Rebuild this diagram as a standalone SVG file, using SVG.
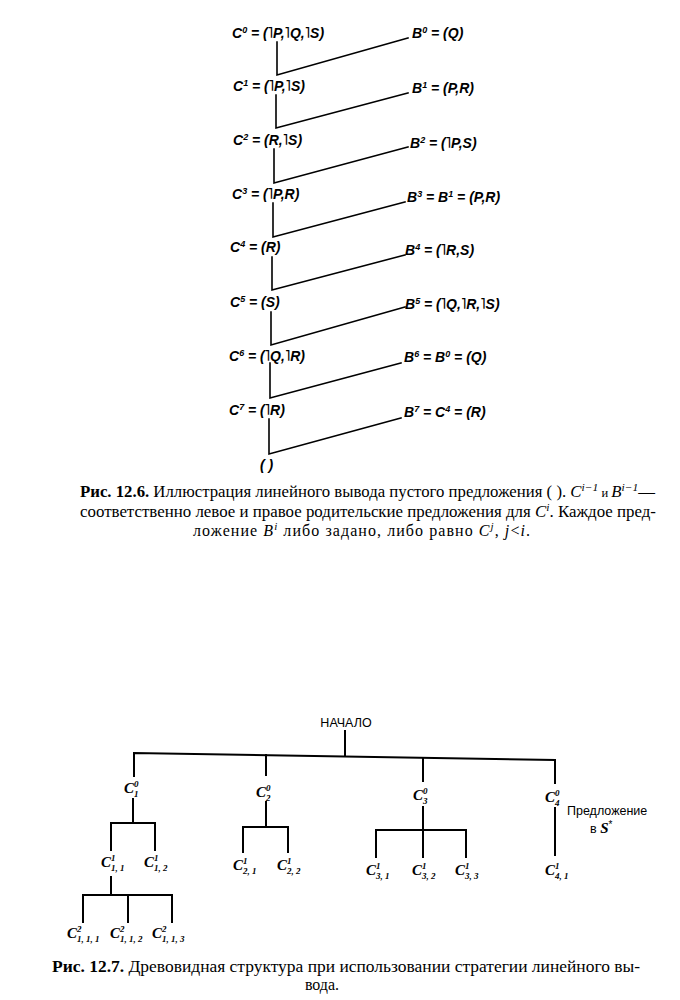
<svg xmlns="http://www.w3.org/2000/svg" width="680" height="1000" viewBox="0 0 680 1000">
<style>
.bg{fill:#fff}
.lt{fill:none;stroke:#000;stroke-width:1.6;stroke-linecap:square}
.ln{fill:none;stroke:#000;stroke-width:2;stroke-linecap:square}
.f{font-family:"Liberation Sans","DejaVu Sans",sans-serif;font-weight:bold;font-style:italic;font-size:14px;fill:#000}
.cap{font-family:"Liberation Serif","DejaVu Serif",serif;font-size:16px;fill:#000}
.b{font-weight:bold}
.it{font-style:italic}
.tc{font-family:"Liberation Serif","DejaVu Serif",serif;font-weight:bold;font-style:italic;font-size:15px;fill:#000}
.ts{font-family:"Liberation Serif","DejaVu Serif",serif;font-weight:bold;font-style:italic;font-size:9px;fill:#000}
.lab{font-family:"Liberation Sans","DejaVu Sans",sans-serif;font-size:12.5px;fill:#000}
</style>
<rect class="bg" width="680" height="1000"/>

<g id="connectors">
  <path class="lt" d="M277 42V75L408 38"/>
  <path class="lt" d="M276 95V128L408 93"/>
  <path class="lt" d="M274 149V183L408 147"/>
  <path class="lt" d="M273 203V237L405 202"/>
  <path class="lt" d="M272 257V290L405 255"/>
  <path class="lt" d="M271 312V345L405 307"/>
  <path class="lt" d="M270 363V398L401 363"/>
  <path class="lt" d="M269 419V454L401 418"/>

  <path class="ln" d="M345 731V755"/>
  <path class="ln" d="M134 776V753L555 760V783"/>
  <path class="ln" d="M266 755V775"/>
  <path class="ln" d="M423 758V781"/>
  <path class="ln" d="M133 799V823"/>
  <path class="ln" d="M111 850V823H155V850"/>
  <path class="ln" d="M111 877V895"/>
  <path class="ln" d="M83 922V895H172V922"/>
  <path class="ln" d="M128 895V922"/>
  <path class="ln" d="M266 802V827"/>
  <path class="ln" d="M243 852V827H288V852"/>
  <path class="ln" d="M423 807V857"/>
  <path class="ln" d="M376 857V830H466V857"/>
  <path class="ln" d="M555 808V855"/>
</g>

<g id="C0"><text class="f" x="232" y="38">C<tspan dy="-5" font-size="9">0</tspan><tspan dy="5"> = (˥P,˥Q,˥S)</tspan></text></g>
<g id="C1"><text class="f" x="233" y="91">C<tspan dy="-5" font-size="9">1</tspan><tspan dy="5"> = (˥P,˥S)</tspan></text></g>
<g id="C2"><text class="f" x="233" y="145">C<tspan dy="-5" font-size="9">2</tspan><tspan dy="5"> = (R,˥S)</tspan></text></g>
<g id="C3"><text class="f" x="232" y="199">C<tspan dy="-5" font-size="9">3</tspan><tspan dy="5"> = (˥P,R)</tspan></text></g>
<g id="C4"><text class="f" x="230" y="252">C<tspan dy="-5" font-size="9">4</tspan><tspan dy="5"> = (R)</tspan></text></g>
<g id="C5"><text class="f" x="230" y="307">C<tspan dy="-5" font-size="9">5</tspan><tspan dy="5"> = (S)</tspan></text></g>
<g id="C6"><text class="f" x="229" y="361">C<tspan dy="-5" font-size="9">6</tspan><tspan dy="5"> = (˥Q,˥R)</tspan></text></g>
<g id="C7"><text class="f" x="229" y="415">C<tspan dy="-5" font-size="9">7</tspan><tspan dy="5"> = (˥R)</tspan></text></g>
<g id="empty"><text class="f" x="260" y="470">(  )</text></g>

<g id="B0"><text class="f" x="412" y="38">B<tspan dy="-5" font-size="9">0</tspan><tspan dy="5"> = (Q)</tspan></text></g>
<g id="B1"><text class="f" x="412" y="93">B<tspan dy="-5" font-size="9">1</tspan><tspan dy="5"> = (P,R)</tspan></text></g>
<g id="B2"><text class="f" x="410" y="148">B<tspan dy="-5" font-size="9">2</tspan><tspan dy="5"> = (˥P,S)</tspan></text></g>
<g id="B3"><text class="f" x="407" y="202">B<tspan dy="-5" font-size="9">3</tspan><tspan dy="5"> = B</tspan><tspan dy="-5" font-size="9">1</tspan><tspan dy="5"> = (P,R)</tspan></text></g>
<g id="B4"><text class="f" x="405" y="255">B<tspan dy="-5" font-size="9">4</tspan><tspan dy="5"> = (˥R,S)</tspan></text></g>
<g id="B5"><text class="f" x="405" y="309">B<tspan dy="-5" font-size="9">5</tspan><tspan dy="5"> = (˥Q,˥R,˥S)</tspan></text></g>
<g id="B6"><text class="f" x="404" y="362">B<tspan dy="-5" font-size="9">6</tspan><tspan dy="5"> = B</tspan><tspan dy="-5" font-size="9">0</tspan><tspan dy="5"> = (Q)</tspan></text></g>
<g id="B7"><text class="f" x="404" y="417">B<tspan dy="-5" font-size="9">7</tspan><tspan dy="5"> = C</tspan><tspan dy="-5" font-size="9">4</tspan><tspan dy="5"> = (R)</tspan></text></g>

<g id="caption1">
  <text class="cap" x="80" y="497" textLength="575" lengthAdjust="spacingAndGlyphs"><tspan class="b">Рис. 12.6.</tspan> Иллюстрация  линейного вывода пустого предложения ( ). <tspan class="it">C</tspan><tspan class="it" dy="-6" font-size="11">i−1</tspan><tspan dy="6" font-size="12"> и </tspan><tspan class="it">B</tspan><tspan class="it" dy="-6" font-size="11">i−1</tspan><tspan dy="6">—</tspan></text>
  <text class="cap" x="80" y="517" textLength="576" lengthAdjust="spacingAndGlyphs">соответственно левое и правое родительские предложения для <tspan class="it">C</tspan><tspan class="it" dy="-6" font-size="11">i</tspan><tspan dy="6">. Каждое пред-</tspan></text>
  <text class="cap" x="193" y="536" textLength="337" lengthAdjust="spacing">ложение <tspan class="it">B</tspan><tspan class="it" dy="-6" font-size="11">i</tspan><tspan dy="6"> либо задано, либо равно </tspan><tspan class="it">C</tspan><tspan class="it" dy="-6" font-size="11">j</tspan><tspan dy="6">, </tspan><tspan class="it">j</tspan>&lt;<tspan class="it">i</tspan>.</text>
</g>

<g id="start"><text class="lab" x="346" y="727" text-anchor="middle">НАЧАЛО</text></g>

<g id="C1_0"><text class="tc" x="124" y="793">C</text><text class="ts" x="134" y="787">0</text><text class="ts" x="134" y="797">1</text></g>
<g id="C2_0"><text class="tc" x="256" y="797">C</text><text class="ts" x="266" y="791">0</text><text class="ts" x="266" y="801">2</text></g>
<g id="C3_0"><text class="tc" x="413" y="800">C</text><text class="ts" x="423" y="794">0</text><text class="ts" x="423" y="804">3</text></g>
<g id="C4_0"><text class="tc" x="545" y="802">C</text><text class="ts" x="555" y="796">0</text><text class="ts" x="555" y="806">4</text></g>
<g id="note"><text class="lab" x="567" y="815">Предложение</text><text class="lab" x="590" y="833">в <tspan font-family="Liberation Serif,serif" font-weight="bold" font-style="italic" font-size="15">S</tspan><tspan dy="-5" font-size="10">*</tspan></text></g>

<g id="C1_1"><text class="tc" x="101" y="867">C</text><text class="ts" x="111" y="861">1</text><text class="ts" x="111" y="871">1, 1</text></g>
<g id="C1_2"><text class="tc" x="144" y="867">C</text><text class="ts" x="154" y="861">1</text><text class="ts" x="154" y="871">1, 2</text></g>
<g id="C2_1"><text class="tc" x="233" y="870">C</text><text class="ts" x="243" y="864">1</text><text class="ts" x="243" y="874">2, 1</text></g>
<g id="C2_2"><text class="tc" x="277" y="870">C</text><text class="ts" x="287" y="864">1</text><text class="ts" x="287" y="874">2, 2</text></g>
<g id="C3_1"><text class="tc" x="366" y="875">C</text><text class="ts" x="376" y="869">1</text><text class="ts" x="376" y="879">3, 1</text></g>
<g id="C3_2"><text class="tc" x="412" y="875">C</text><text class="ts" x="422" y="869">1</text><text class="ts" x="422" y="879">3, 2</text></g>
<g id="C3_3"><text class="tc" x="455" y="875">C</text><text class="ts" x="465" y="869">1</text><text class="ts" x="465" y="879">3, 3</text></g>
<g id="C4_1"><text class="tc" x="545" y="875">C</text><text class="ts" x="555" y="869">1</text><text class="ts" x="555" y="879">4, 1</text></g>

<g id="C1_1_1"><text class="tc" x="67" y="938">C</text><text class="ts" x="77" y="932">2</text><text class="ts" x="77" y="942">1, 1, 1</text></g>
<g id="C1_1_2"><text class="tc" x="110" y="938">C</text><text class="ts" x="120" y="932">2</text><text class="ts" x="120" y="942">1, 1, 2</text></g>
<g id="C1_1_3"><text class="tc" x="152" y="938">C</text><text class="ts" x="162" y="932">2</text><text class="ts" x="162" y="942">1, 1, 3</text></g>

<g id="caption2">
  <text class="cap" x="52" y="972" textLength="588" lengthAdjust="spacingAndGlyphs"><tspan class="b">Рис. 12.7.</tspan> Древовидная структура при использовании стратегии линейного вы-</text>
  <text class="cap" x="322" y="990" text-anchor="middle">вода.</text>
</g>
</svg>
